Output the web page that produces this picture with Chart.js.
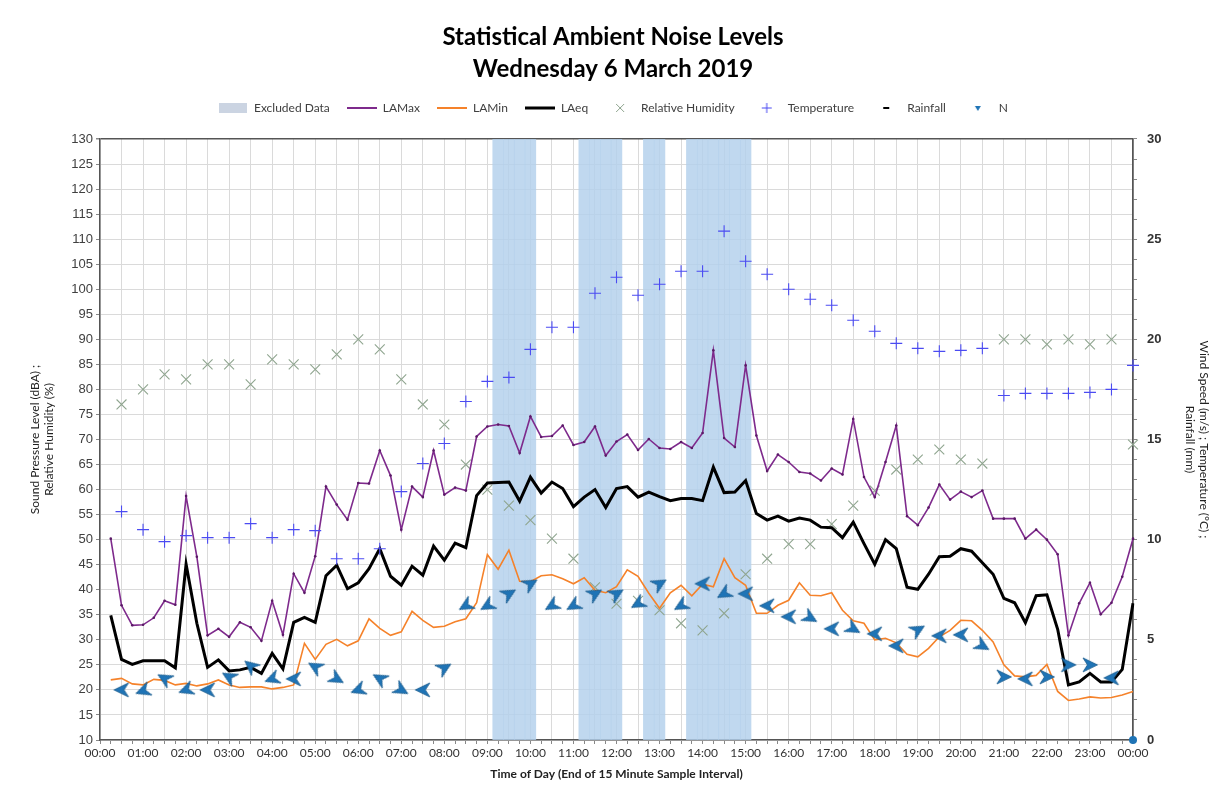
<!DOCTYPE html>
<html>
<head>
<meta charset="utf-8">
<script src="https://cdn.jsdelivr.net/npm/chart.js@4.4.1/dist/chart.umd.min.js"></script>
<style>
html,body{margin:0;padding:0;background:#fff;}
#wrap{width:1226px;height:799px;position:relative;}
canvas{display:block;}
</style>
</head>
<body>
<div id="wrap"><canvas id="c" width="1226" height="799"></canvas></div>
<script>
// ---------- categories (15-minute interval end times) ----------
const times = [
 "00:00","00:15","00:30","00:45","01:00","01:15","01:30","01:45","02:00","02:15","02:30","02:45",
 "03:00","03:15","03:30","03:45","04:00","04:15","04:30","04:45","05:00","05:15","05:30","05:45",
 "06:00","06:15","06:30","06:45","07:00","07:15","07:30","07:45","08:00","08:15","08:30","08:45",
 "09:00","09:15","09:30","09:45","10:00","10:15","10:30","10:45","11:00","11:15","11:30","11:45",
 "12:00","12:15","12:30","12:45","13:00","13:15","13:30","13:45","14:00","14:15","14:30","14:45",
 "15:00","15:15","15:30","15:45","16:00","16:15","16:30","16:45","17:00","17:15","17:30","17:45",
 "18:00","18:15","18:30","18:45","19:00","19:15","19:30","19:45","20:00","20:15","20:30","20:45",
 "21:00","21:15","21:30","21:45","22:00","22:15","22:30","22:45","23:00","23:15","23:30","23:45","24:00"
];
const sampleTimes = times.slice(1);                       // 00:15 ... 24:00 (96)
const halfHourTimes = times.filter((t, i) => i > 0 && i % 2 === 0); // 00:30 ... 24:00 (48)

// ---------- excluded intervals ----------
const excludedTimes = ["09:15","09:30","09:45","10:00","11:15","11:30","11:45","12:00",
                       "12:45","13:00","13:45","14:00","14:15","14:30","14:45","15:00"];

// ---------- noise levels (dBA), 15-minute samples ----------
const laMax = [
 50.2,36.9,32.9,33.0,34.4,37.8,37.0,58.7, 46.6,30.9,32.2,30.6,33.5,32.5,29.8,37.8,
 31.0,43.2,39.4,46.7,60.6,57.0,54.0,61.3, 61.2,67.8,62.8,52.0,60.6,58.5,67.8,59.0,
 60.4,59.8,70.6,72.6,73.0,72.7,67.3,74.6, 70.5,70.7,72.8,68.9,69.5,72.6,66.8,69.6,
 71.0,67.9,70.1,68.3,68.1,69.5,68.3,71.3, 87.8,70.3,68.5,84.8,70.8,63.7,67.0,65.5,
 63.5,63.2,61.8,64.2,63.0,74.1,62.5,58.5, 65.5,72.8,54.7,52.9,56.4,61.0,58.0,59.6,
 58.5,59.8,54.2,54.2,54.2,50.2,52.0,50.0, 47.1,30.9,37.3,41.4,35.1,37.4,42.6,50.2
];
const laMin = [
 22.0,22.3,21.2,21.0,22.1,21.9,21.0,21.3, 20.8,21.2,22.0,21.0,20.5,20.6,20.6,20.2,
 20.5,21.0,29.3,26.1,29.1,30.1,28.8,29.8, 34.2,32.3,30.9,31.6,35.7,33.9,32.5,32.7,
 33.6,34.2,37.4,47.0,44.1,47.9,41.7,41.6, 42.8,43.0,42.2,41.2,42.4,39.9,39.4,40.6,
 44.0,42.7,39.3,36.3,39.4,40.9,38.8,41.1, 40.6,46.2,42.4,40.9,35.3,35.3,36.9,37.9,
 41.4,38.9,38.8,39.4,35.9,33.8,33.3,30.0, 30.3,29.4,27.1,26.6,28.3,30.6,31.9,33.9,
 33.8,31.9,29.6,25.0,22.8,22.6,22.9,25.1, 19.7,17.9,18.2,18.6,18.4,18.5,19.0,19.7
];
const laEq = [
 34.9,26.1,25.1,25.8,25.8,25.8,24.4,45.1, 33.3,24.5,26.0,23.8,24.0,24.5,23.3,27.3,
 24.2,33.5,34.5,33.5,42.8,44.9,40.2,41.4, 44.2,48.2,42.7,40.9,44.7,42.9,48.7,45.9,
 49.3,48.4,58.8,61.3,61.4,61.5,57.7,62.5, 59.3,61.5,60.2,56.6,58.5,60.0,56.4,60.2,
 60.6,58.5,59.5,58.6,57.8,58.2,58.2,57.8, 64.5,59.4,59.5,61.8,55.2,53.9,54.7,53.7,
 54.3,53.9,52.5,52.4,50.4,53.5,49.2,45.1, 50.0,48.2,40.5,40.1,43.1,46.6,46.7,48.2,
 47.7,45.4,43.1,38.3,37.4,33.4,38.8,39.0, 32.1,21.0,21.6,23.3,21.6,21.6,24.1,37.3
];

// ---------- weather, 30-minute samples ----------
const relHumidity = [
 77,80,83,82,85,85,81,86,85,84,87,90,
 88,82,77,73,65,60,56.8,53.9,50.2,46.2,40.5,37.2,
 37.8,35.9,33.3,31.9,35.3,43.1,46.2,49.1,49.1,53.1,56.8,59.8,
 64,66,68,66,65.2,90,90,89,90,89,90,69
];
const temperature = [
 11.4,10.5,9.9,10.2,10.1,10.1,10.8,10.1,10.5,10.45,9.05,9.05,
 9.55,12.4,13.8,14.8,16.9,17.9,18.1,19.5,20.6,20.6,22.3,23.1,
 22.2,22.75,23.4,23.4,25.4,23.9,23.25,22.5,22.0,21.7,20.95,20.4,
 19.8,19.55,19.4,19.45,19.55,17.2,17.3,17.3,17.3,17.35,17.5,18.7
];
const windSpeed = [
 2.5,2.45,3.07,2.5,2.5,3.15,3.7,3.05,3.05,3.65,3.05,2.5,
 3.07,2.5,2.5,3.6,6.7,6.7,7.3,7.8,6.7,6.7,7.3,7.3,
 6.8,7.8,6.7,7.8,7.3,7.3,6.7,6.15,6.1,5.55,5.55,5.3,
 4.7,5.5,5.2,5.25,4.7,3.15,3.05,3.15,3.75,3.75,3.1,0
];
// arrow heading, degrees clockwise from pointing up (estimated from the glyphs)
const windDir = [
 270,250,300,250,270,300,310,250,270,300,120,250,
 300,120,270,60,240,240,60,60,240,240,60,60,
 240,60,240,270,240,270,270,270,120,270,120,270,
 270,60,270,270,120,90,270,90,90,90,270,0
];
const rainfall = [];

// ---------- axis ranges / tick labels ----------
const Y_MIN = 10, Y_MAX = 130, Y_STEP = 5;
const Y2_MIN = 0, Y2_MAX = 30, Y2_STEP = 1;

// ---------- styles ----------
const C_MAX = '#7E2A8C', C_MIN = '#F5822A', C_EQ = '#000000';
const C_RH = '#8FA58F', C_T = '#4B4BF2', C_WIND = '#1F74B6';
const C_BAND = 'rgba(178,208,236,0.82)';
const C_GRID = '#DADADA', C_BORDER = '#555555';

function makeArrow(color) {
  const c = document.createElement('canvas'); c.width = 18; c.height = 18;
  const g = c.getContext('2d');
  g.fillStyle = color; g.strokeStyle = '#17598C'; g.lineWidth = 0.8;
  g.beginPath(); g.moveTo(9, 1.5); g.lineTo(16, 16); g.lineTo(9, 11.5); g.lineTo(2, 16); g.closePath();
  g.fill(); g.stroke();
  return c;
}
function makeDash() {
  const c = document.createElement('canvas'); c.width = 8; c.height = 4;
  const g = c.getContext('2d'); g.fillStyle = '#000'; g.fillRect(1, 1, 6, 2); return c;
}
function makeTri(color) {
  const c = document.createElement('canvas'); c.width = 8; c.height = 8;
  const g = c.getContext('2d'); g.fillStyle = color;
  g.beginPath(); g.moveTo(1, 2); g.lineTo(7, 2); g.lineTo(4, 7); g.closePath(); g.fill(); return c;
}
function makeCross(color, rotated) {
  const c = document.createElement('canvas'); c.width = 12; c.height = 12;
  const g = c.getContext('2d'); g.strokeStyle = color; g.lineWidth = 1;
  g.beginPath();
  if (rotated) { g.moveTo(2, 2); g.lineTo(10, 10); g.moveTo(10, 2); g.lineTo(2, 10); }
  else { g.moveTo(6, 1); g.lineTo(6, 11); g.moveTo(1, 6); g.lineTo(11, 6); }
  g.stroke(); return c;
}
function makePatch() {
  const c = document.createElement('canvas'); c.width = 30; c.height = 12;
  const g = c.getContext('2d'); g.fillStyle = 'rgba(200,210,224,0.95)'; g.fillRect(1, 1, 28, 10); return c;
}
function makeLine(color, w) {
  const c = document.createElement('canvas'); c.width = 30; c.height = 6;
  const g = c.getContext('2d'); g.fillStyle = color; g.fillRect(0, 3 - w / 2, 30, w); return c;
}
const arrowImg = makeArrow(C_WIND);
const dashImg = makeDash();
const triImg = makeTri(C_WIND);

const pairs = (xs, ys) => ys.map((v, i) => ({x: xs[i], y: v}));

Chart.defaults.font.family = 'Lato, "Liberation Sans", sans-serif';
Chart.defaults.color = '#404040';

const legendItems = [
  {text: 'Excluded Data', pointStyle: makePatch()},
  {text: 'LAMax', pointStyle: makeLine(C_MAX, 2)},
  {text: 'LAMin', pointStyle: makeLine(C_MIN, 2)},
  {text: 'LAeq', pointStyle: makeLine(C_EQ, 3)},
  {text: 'Relative Humidity', pointStyle: makeCross(C_RH, true)},
  {text: 'Temperature', pointStyle: makeCross(C_T, false)},
  {text: 'Rainfall', pointStyle: dashImg},
  {text: 'N', pointStyle: triImg}
];

new Chart(document.getElementById('c'), {
  type: 'line',
  data: {
    labels: times,
    datasets: [
      {label: 'Excluded Data', type: 'bar', data: excludedTimes.map(t => ({x: t, y: Y_MAX})),
       backgroundColor: C_BAND, borderWidth: 0, barPercentage: 1, categoryPercentage: 1, grouped: false,
       xAxisID: 'x', yAxisID: 'y', order: 10},
      {label: 'LAMax', data: pairs(sampleTimes, laMax), borderColor: C_MAX, backgroundColor: '#5A1A66',
       borderWidth: 1.6, pointRadius: 1.3, pointBorderWidth: 0, tension: 0, xAxisID: 'x', yAxisID: 'y', order: 3},
      {label: 'LAMin', data: pairs(sampleTimes, laMin), borderColor: C_MIN, backgroundColor: C_MIN,
       borderWidth: 1.6, pointRadius: 0, tension: 0, xAxisID: 'x', yAxisID: 'y', order: 4},
      {label: 'LAeq', data: pairs(sampleTimes, laEq), borderColor: C_EQ, backgroundColor: C_EQ,
       borderWidth: 3, pointRadius: 0, tension: 0, xAxisID: 'x', yAxisID: 'y', order: 2},
      {label: 'Relative Humidity', data: pairs(halfHourTimes, relHumidity), showLine: false,
       pointStyle: 'crossRot', pointRadius: 7, borderColor: C_RH, borderWidth: 1.1, backgroundColor: C_RH,
       clip: false, xAxisID: 'x', yAxisID: 'y', order: 5},
      {label: 'Temperature', data: pairs(halfHourTimes, temperature), showLine: false,
       pointStyle: 'cross', pointRadius: 6, borderColor: C_T, borderWidth: 1.1, backgroundColor: C_T,
       clip: false, xAxisID: 'x', yAxisID: 'y2', order: 1},
      {label: 'Rainfall', data: rainfall, showLine: false, pointStyle: dashImg,
       xAxisID: 'x', yAxisID: 'y2', order: 1},
      {label: 'N', data: pairs(halfHourTimes, windSpeed), showLine: false,
       pointStyle: ctx => (windSpeed[ctx.dataIndex] === 0 ? 'circle' : arrowImg),
       rotation: ctx => windDir[ctx.dataIndex] || 0,
       pointRadius: 4, backgroundColor: C_WIND, borderColor: C_WIND, borderWidth: 0,
       clip: false, xAxisID: 'x', yAxisID: 'y2', order: 0}
    ]
  },
  options: {
    responsive: false,
    animation: false,
    devicePixelRatio: 1,
    layout: {padding: {left: 12, right: 12, top: 10, bottom: 8}},
    plugins: {
      tooltip: {enabled: false},
      title: {
        display: true,
        text: ['Statistical Ambient Noise Levels', 'Wednesday 6 March 2019'],
        color: '#000',
        font: {family: 'Lato', size: 24, weight: 'bold', lineHeight: 1.3333},
        padding: {top: 11, bottom: 0}
      },
      legend: {
        display: true,
        labels: {
          usePointStyle: true, pointStyleWidth: 30, boxHeight: 8, padding: 17,
          color: '#404040', font: {family: 'Lato', size: 12},
          generateLabels: () => legendItems.map((it, i) => Object.assign(
            {datasetIndex: i, hidden: false, fontColor: '#404040', fillStyle: '#000', strokeStyle: '#000', lineWidth: 0}, it))
        }
      }
    },
    scales: {
      x: {
        type: 'category', position: 'bottom', offset: false,
        grid: {
          color: ctx => (ctx.index === times.length - 1 ? C_BORDER : (ctx.index % 2 === 0 ? C_GRID : 'rgba(0,0,0,0)')),
          lineWidth: ctx => (ctx.index === times.length - 1 ? 1.5 : 1),
          tickColor: '#888', tickLength: 4, offset: false
        },
        border: {display: true, color: C_BORDER, width: 1.5},
        ticks: {
          autoSkip: false, maxRotation: 0, minRotation: 0, padding: 2,
          color: '#333', font: {family: 'Lato', size: 12},
          callback: (v, i) => (times[i].endsWith(':00') ? (times[i] === '24:00' ? '00:00' : times[i]) : '')
        },
        title: {display: true, text: 'Time of Day (End of 15 Minute Sample Interval)', color: '#222',
                font: {family: 'Lato', size: 12, weight: 'bold'}, padding: {top: 0, bottom: 10}},
        afterFit: s => { s.height = 51; }
      },
      xTop: {
        type: 'category', position: 'top', display: true,
        grid: {display: false, drawTicks: false}, border: {display: false}, ticks: {display: false},
        afterFit: s => { s.height = 15; }
      },
      y: {
        type: 'linear', position: 'left', min: Y_MIN, max: Y_MAX,
        grid: {color: ctx => (ctx.tick && ctx.tick.value === Y_MAX ? C_BORDER : C_GRID),
               lineWidth: ctx => (ctx.tick && ctx.tick.value === Y_MAX ? 1.5 : 1),
               tickColor: '#888', tickLength: 4},
        border: {display: true, color: C_BORDER, width: 1.5},
        ticks: {stepSize: Y_STEP, autoSkip: false, padding: 3, color: '#404040',
                font: {family: '"Liberation Sans", Arial', size: 13}},
        title: {display: true, text: ['Sound Pressure Level (dBA) ;', 'Relative Humidity (%)'], color: '#222',
                font: {family: 'Lato', size: 12, lineHeight: 1.2}, padding: {top: 16, bottom: 0}},
        afterFit: s => { s.width = 88; }
      },
      y2: {
        type: 'linear', position: 'right', min: Y2_MIN, max: Y2_MAX,
        grid: {drawOnChartArea: false, tickColor: '#888', tickLength: 4},
        border: {display: true, color: C_BORDER, width: 1.5},
        ticks: {stepSize: Y2_STEP, autoSkip: false, padding: 10, color: '#333',
                font: {family: '"Liberation Sans", Arial', size: 13, weight: 'bold'},
                callback: v => (v % 5 === 0 ? String(v) : '')},
        title: {display: true, text: ['Wind Speed (m/s) ; Temperature (°C) ;', 'Rainfall (mm)'], color: '#222',
                font: {family: 'Lato', size: 12, lineHeight: 1.2}, padding: {top: 3, bottom: 0}},
        afterFit: s => { s.width = 81; }
      }
    }
  }
});
</script>
</body>
</html>
